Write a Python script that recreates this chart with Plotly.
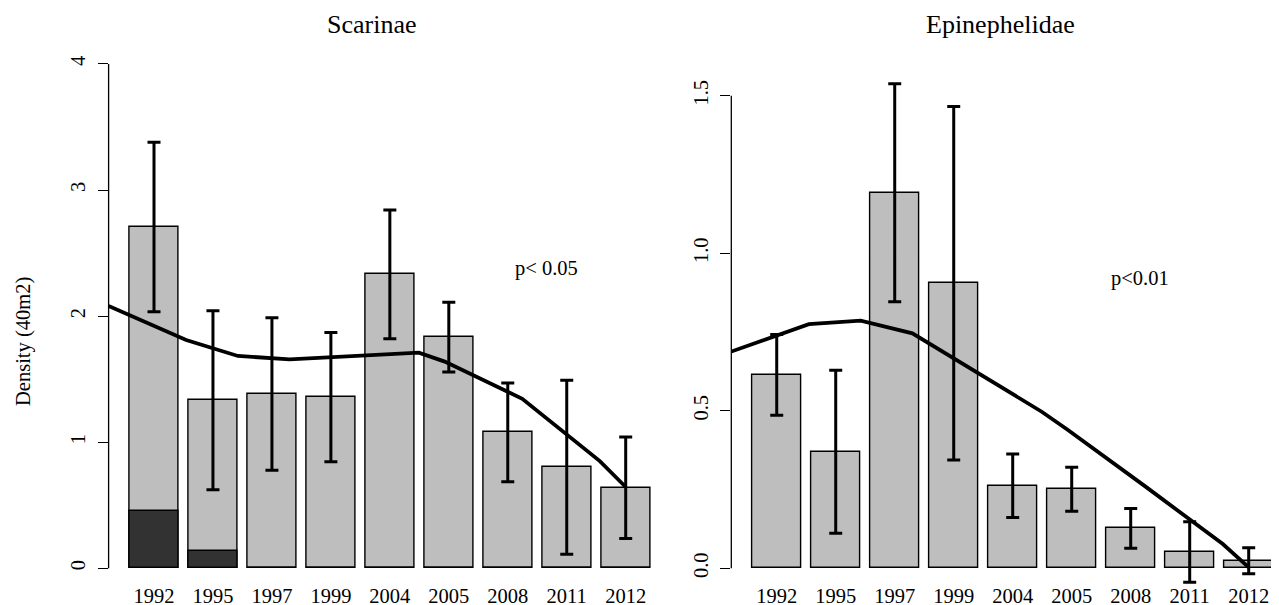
import plotly.graph_objects as go

# ---------------- data ----------------
years = ["1992", "1995", "1997", "1999", "2004", "2005", "2008", "2011", "2012"]
year_num = [1992, 1995, 1997, 1999, 2004, 2005, 2008, 2011, 2012]

scar_total = [2.706, 1.333, 1.382, 1.357, 2.331, 1.833, 1.078, 0.801, 0.639]
scar_dark = [0.457, 0.137, 0, 0, 0, 0, 0, 0, 0]
scar_se = [0.672, 0.710, 0.605, 0.513, 0.511, 0.277, 0.391, 0.690, 0.402]
scar_fit = [2.080, 1.810, 1.684, 1.657, 1.710, 1.639, 1.344, 0.850, 0.645]

epi_total = [0.614, 0.370, 1.192, 0.905, 0.262, 0.251, 0.127, 0.052, 0.024]
epi_se = [0.128, 0.259, 0.346, 0.561, 0.101, 0.070, 0.063, 0.096, 0.041]
epi_fit = [0.688, 0.775, 0.786, 0.746, 0.497, 0.440, 0.260, 0.077, 0.003]

titles = ["Scarinae", "Epinephelidae"]
p_texts = ["p< 0.05", "p<0.01"]
y_title = "Density (40m2)"
scar_ticks = [0, 1, 2, 3, 4]
epi_ticks = [0.0, 0.5, 1.0, 1.5]
epi_ticktext = ["0.0", "0.5", "1.0", "1.5"]

# ---------------- layout geometry ----------------
SCREEN_W, SCREEN_H = 1279, 605
OFF = 8  # page body margin in the browser
W, H = SCREEN_W - OFF, SCREEN_H - OFF
MT, MB = 22, 21
TOP, BOT = MT, H - MB          # figure pixel coords of plot area
FONT = "Liberation Serif, Times New Roman, serif"
GREY = "#BEBEBE"
DARK = "#323232"


def fx(p):  # screen px -> figure px
    return p - OFF


def px_x(p):
    return fx(p) / W


def px_y(p):
    return (BOT - fx(p)) / (BOT - TOP)


zero_px = fx(568.3)
scar_ppu = 126.1
epi_ppu = 315.0
scar_yrange = [-(BOT - zero_px) / scar_ppu, (zero_px - TOP) / scar_ppu]
epi_yrange = [-(BOT - zero_px) / epi_ppu, (zero_px - TOP) / epi_ppu]

a = 0.77  # category offset of axis from first bar centre
left_dom = [fx(108.6) / W, fx(671.1) / W]
right_dom = [fx(731.3) / W, 1.0]
left_xr = [-a, 8 + a]
right_right = 8 + (SCREEN_W - 1248.7) / 59.0
right_xr = [-a, right_right]
# year axis for fitted line: 1992 at axis, 2012 at last bar centre
yr_span = 20.0 / (8 + a)
left_yr = [1992, 1992 + (left_xr[1] - left_xr[0]) * yr_span]
right_yr = [1992, 1992 + (right_xr[1] - right_xr[0]) * yr_span]

bar_w = 1 / 1.2
err_style = dict(type="data", visible=True, thickness=3, width=6.5, color="black")

fig = go.Figure()

# Scarinae
fig.add_trace(go.Bar(x=years, y=scar_total, width=bar_w, marker=dict(color=GREY, line=dict(color="black", width=1.4)),
                     error_y=dict(array=scar_se, **err_style), xaxis="x", yaxis="y", showlegend=False))
fig.add_trace(go.Bar(x=years, y=scar_dark, width=bar_w, marker=dict(color=DARK, line=dict(color="black", width=1.4)),
                     xaxis="x", yaxis="y", showlegend=False))
fig.add_trace(go.Scatter(x=year_num, y=scar_fit, mode="lines", line=dict(color="black", width=3.8),
                         xaxis="x3", yaxis="y", showlegend=False, cliponaxis=False))

# Epinephelidae
fig.add_trace(go.Bar(x=years, y=epi_total, width=bar_w, marker=dict(color=GREY, line=dict(color="black", width=1.4)),
                     error_y=dict(array=epi_se, **err_style), xaxis="x2", yaxis="y2", showlegend=False))
fig.add_trace(go.Scatter(x=year_num, y=epi_fit, mode="lines", line=dict(color="black", width=3.8),
                         xaxis="x4", yaxis="y2", showlegend=False, cliponaxis=False))

xcommon = dict(type="category", showgrid=False, zeroline=False, showline=False, ticks="",
               automargin=False, ticklabelstandoff=-3,
               tickfont=dict(family=FONT, size=20.5, color="black"))
ycommon = dict(showgrid=False, zeroline=False, showline=False, ticks="outside", ticklen=10,
               tickwidth=1.3, tickcolor="black", tickangle=-90, automargin=False,
               tickfont=dict(family=FONT, size=20.5, color="black"), ticklabelstandoff=4)

fig.update_layout(
    width=W, height=H,
    margin=dict(l=0, r=0, t=MT, b=MB, autoexpand=False),
    paper_bgcolor="white", plot_bgcolor="white",
    barmode="overlay", bargap=0,
    xaxis=dict(domain=left_dom, range=left_xr, anchor="y", **xcommon),
    xaxis2=dict(domain=right_dom, range=right_xr, anchor="y2", **xcommon),
    xaxis3=dict(overlaying="x", range=left_yr, anchor="y", visible=False, automargin=False),
    xaxis4=dict(overlaying="x2", range=right_yr, anchor="y2", visible=False, automargin=False),
    yaxis=dict(domain=[0, 1], range=scar_yrange, anchor="x", tickvals=scar_ticks,
               ticktext=[str(t) for t in scar_ticks], **ycommon),
    yaxis2=dict(domain=[0, 1], range=epi_yrange, anchor="x2", tickvals=epi_ticks,
                ticktext=epi_ticktext, **ycommon),
    shapes=[
        dict(type="line", xref="x domain", yref="y", x0=0, x1=0, y0=scar_ticks[0], y1=scar_ticks[-1],
             line=dict(color="black", width=1.3)),
        dict(type="line", xref="x2 domain", yref="y2", x0=0, x1=0, y0=epi_ticks[0], y1=epi_ticks[-1],
             line=dict(color="black", width=1.3)),
    ],
    annotations=[
        dict(text=titles[0], x=px_x(372), y=px_y(24), xref="paper", yref="paper", showarrow=False,
             font=dict(family=FONT, size=26, color="black"), xanchor="center", yanchor="middle"),
        dict(text=titles[1], x=px_x(1000), y=px_y(24), xref="paper", yref="paper", showarrow=False,
             font=dict(family=FONT, size=26, color="black"), xanchor="center", yanchor="middle"),
        dict(text=p_texts[0], x=px_x(546.7), y=px_y(268.3), xref="paper", yref="paper", showarrow=False,
             font=dict(family=FONT, size=20.5, color="black"), xanchor="center", yanchor="middle"),
        dict(text=p_texts[1], x=px_x(1140), y=px_y(278.3), xref="paper", yref="paper", showarrow=False,
             font=dict(family=FONT, size=20.5, color="black"), xanchor="center", yanchor="middle"),
        dict(text=y_title, x=px_x(23), y=px_y(342), xref="paper", yref="paper", showarrow=False,
             textangle=-90, font=dict(family=FONT, size=20.5, color="black"),
             xanchor="center", yanchor="middle"),
    ],
)

fig.write_html("out.html")
